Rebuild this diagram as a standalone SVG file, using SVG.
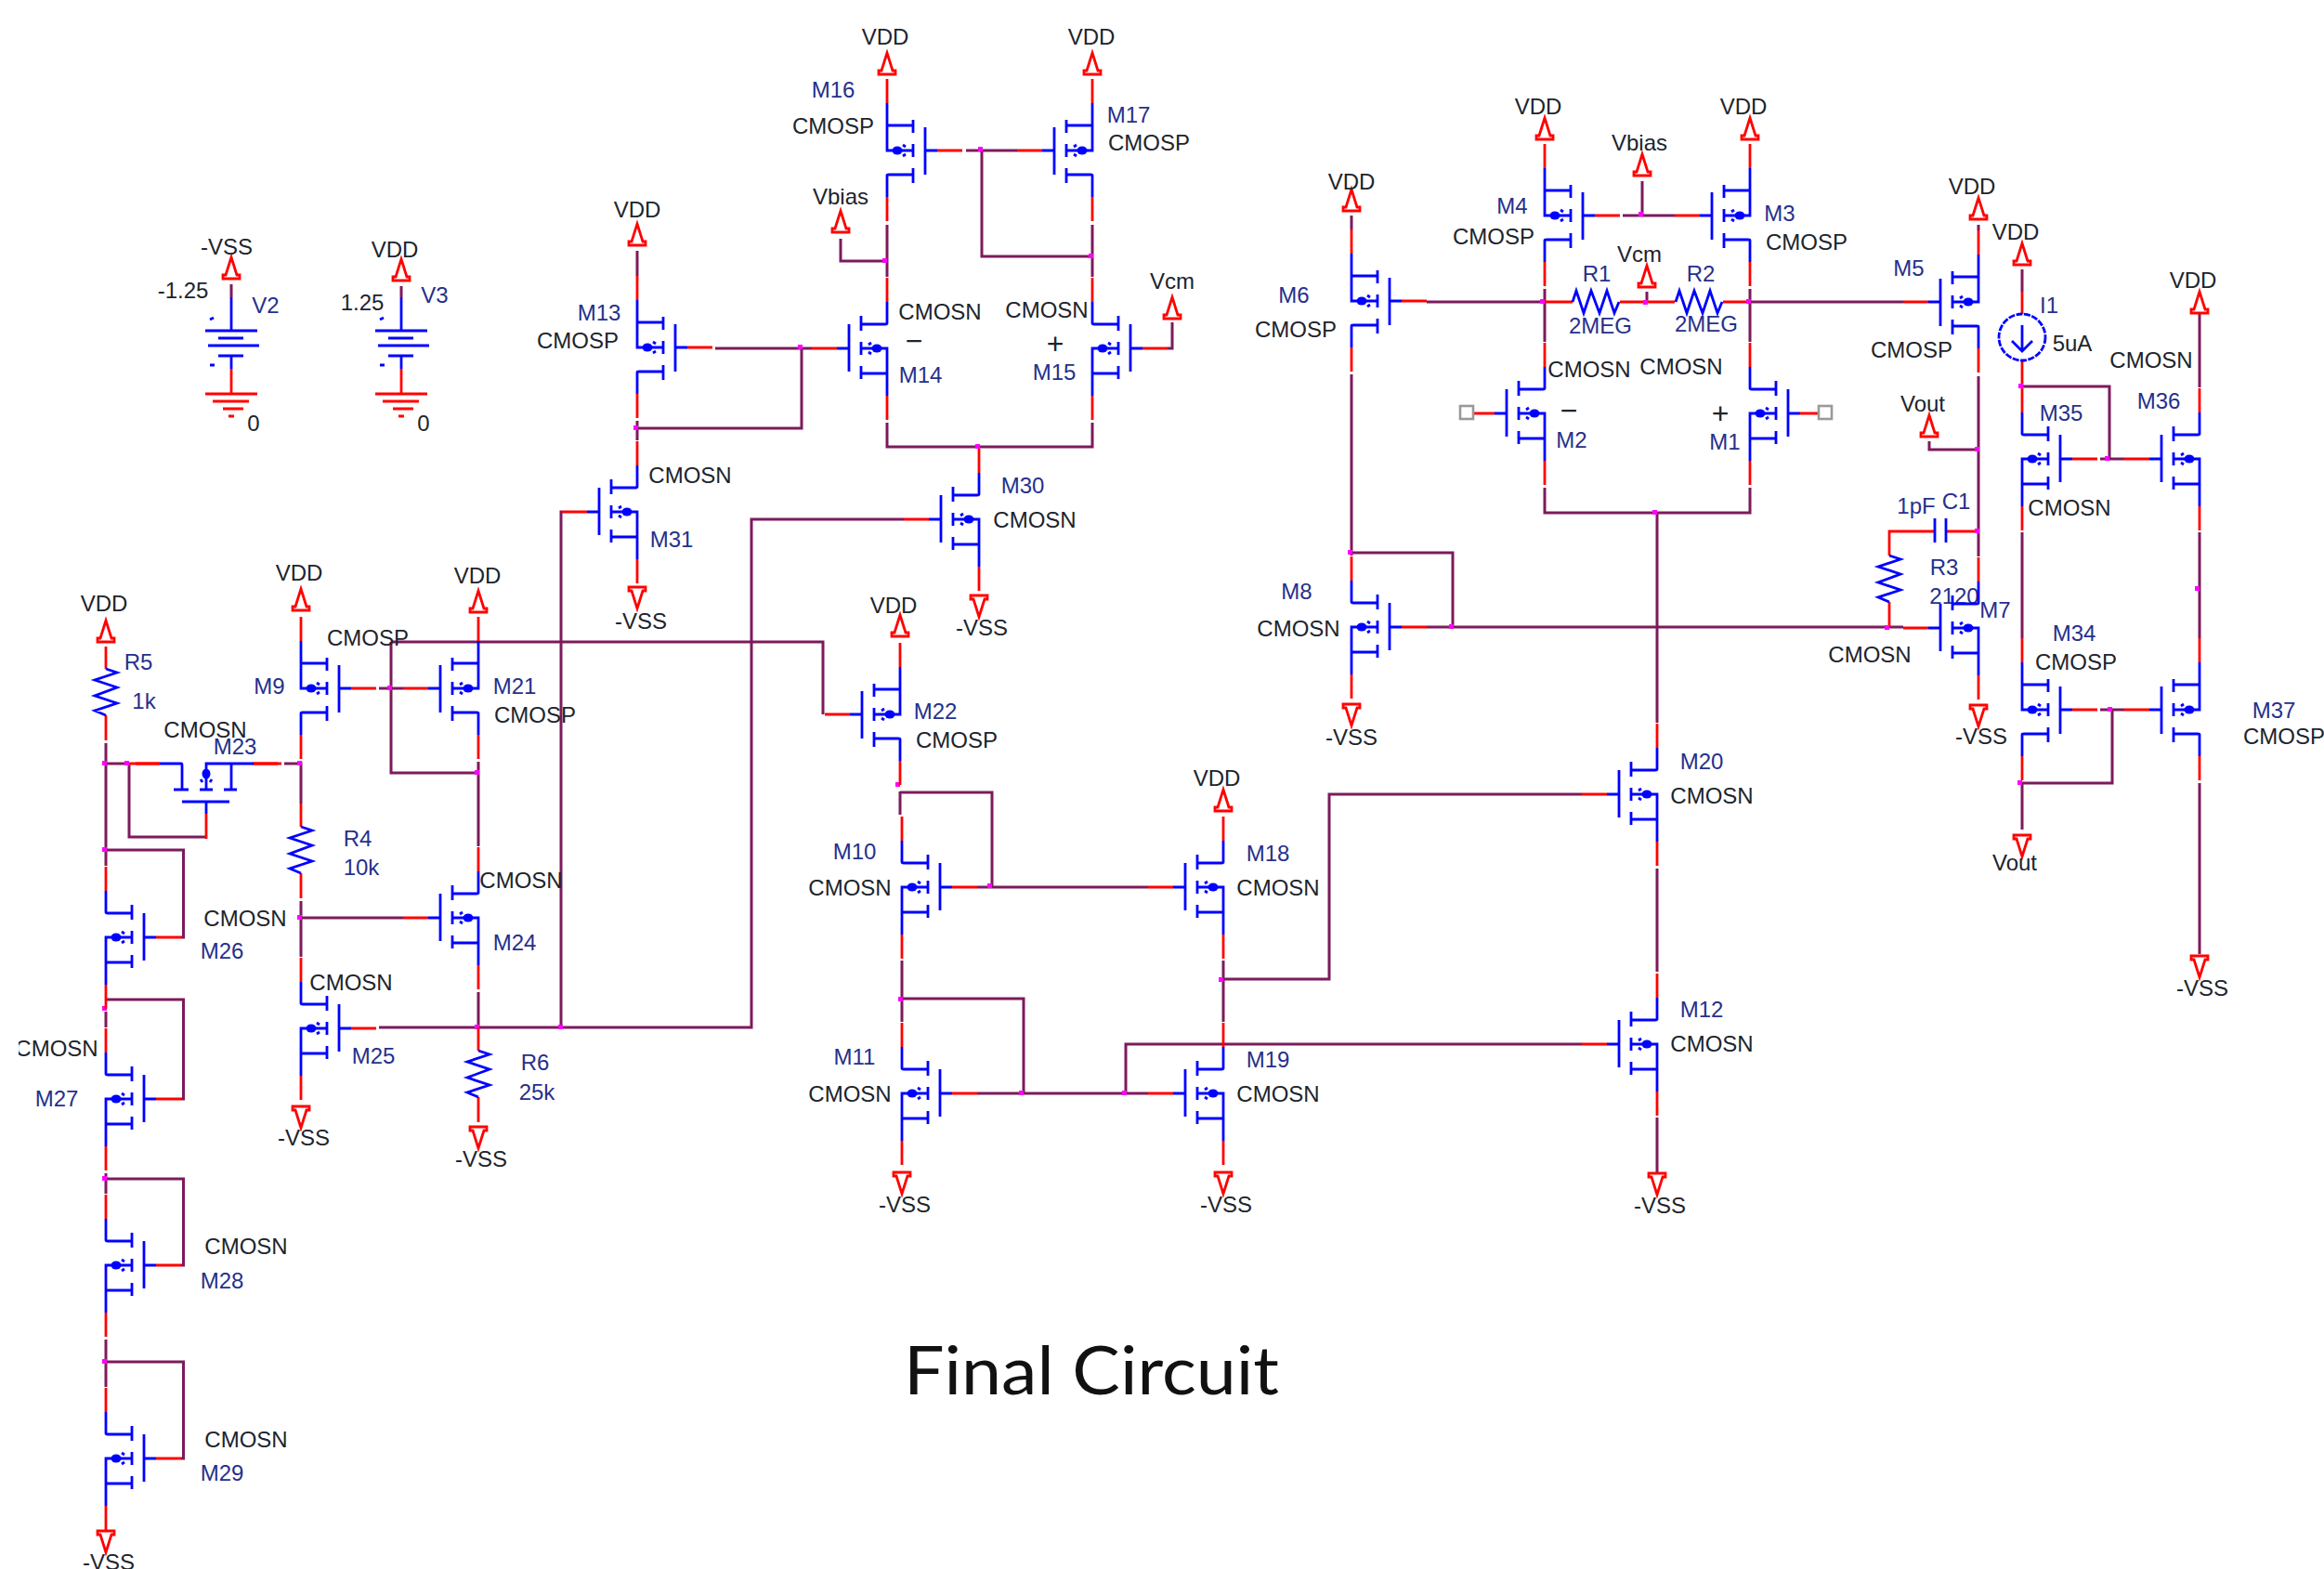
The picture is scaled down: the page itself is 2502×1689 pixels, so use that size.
<svg xmlns="http://www.w3.org/2000/svg" xmlns:xlink="http://www.w3.org/1999/xlink" width="2502" height="1689" viewBox="0 0 2502 1689">
<style>
text{font-family:"Liberation Sans",Arial,sans-serif;font-size:24px;text-anchor:middle;fill:#20242c}
text.b{fill:#26308c}
text.s{font-size:32px}
text.title{font-family:Lato,"Open Sans",sans-serif;font-size:72px;fill:#111}
.p,.r,.w,.m{fill:none;stroke-width:2.8}
.p{stroke:#0000ff}
.r,.m{stroke:#ff0000}
.w{stroke:#7d1a5c;stroke-width:3}
.j{fill:#ff00ff}
.d{fill:#0000ff}
.box{fill:#fff;stroke:#999;stroke-width:2.6}
</style>
<defs>
<clipPath id="cut"><rect x="20" y="1100" width="120" height="60"/></clipPath>
<g id="m">
<path class="p" d="M0,-51V0H28M0,-27H28M0,50V27Q0,26 2,26H28M28,-33V-19M28,-7V7M28,19V35M41,-25V26M41,0H54"/>
<path class="r" d="M54,0H81M0,-51V-77M0,50V76"/>
<ellipse class="d" cx="11" cy="0" rx="5.5" ry="4.5"/>
<path class="p" stroke-width="2" d="M17,-6l3,2M17,6l3,-2"/>
</g>
<path id="up" class="m" d="M0,-23L-6,-4H-9V0H9V-4H6Z"/>
<path id="res" class="p" d="M0,0L12,4L-12,12L12,20L-12,29L12,37L-12,45L0,50"/>
<g id="vsrc">
<path class="p" d="M0,320V356M-28,356H28M-14,364H13M-25,372H30M-14,383H13M0,383V397"/>
<path class="r" d="M0,397V424M-28,424H28M-20,432H19M-9,440H13M-3,448H3"/>
<path class="p" d="M-23,344l4,-2M-23,393h5"/>
</g>
</defs>
<rect width="2502" height="1689" fill="#fff"/>

<g id="connectors">
<path class="w" d="M249,306V320M432,308V320"/>
<path class="w" d="M1040,162H1095M1057,162V276H1176M955,242V298M1176,242V298M955,455V481H1176V455M905,257V281H955"/>
<path class="w" d="M1257,375H1262V347M770,375H874M863,375V461H686M686,270V297M686,453V474"/>
<path class="w" d="M605,551H604V1106M973,559H809V1106H408M515,1068V1106"/>
<path class="w" d="M421,691H886V769M421,691V832H515M408,741H434M515,820V911M324,820V865M324,970V1030M324,988H434"/>
<path class="w" d="M114,800V932M114,822H139M306,822H324M139,822V901H222M114,915H197.5V1009H195M114,1089V1106M114,1076H197.5V1183H195M114,1263V1285M114,1269H197.5V1362H195M114,1442V1493M114,1466H197.5V1570H195"/>
<path class="w" d="M969,852V877M969,853H1068V955M1052,955H1236M971,1034V1100M971,1075H1102V1177M1052,1177H1236M1212,1177V1124H1703M1317,1034V1100M1317,1054H1431V855H1703M1784,935V1046M1784,552V778M1784,1203V1263"/>
<path class="w" d="M1663,525V552H1884V525M1536,325H1663M1884,325H2049M1663,311V368M1884,311V368M1768,195V232M1747,232H1803M1773,314V325M1455,232V247M1455,403V598M1455,595H1564V675M1536,675H2049"/>
<path class="w" d="M2130,242V248M2130,405V599M2077,475V484H2130M2177,290V314M2177,416H2271V494M2261,494H2287M2368,337V417M2177,573V687M2368,573V687M2261,764H2287M2274,764V843H2177M2177,842V893M2368,843V1027"/>
<path class="r" d="M139,822H172M272,822H303M2177,314V338M2177,388V417M2083,572H2034V598M2034,648V675M2095,572H2127M1663,325H1693M1744,325H1803M1855,325H1884"/>
<g class="j">
<rect x="950" y="278" width="5" height="5"/><rect x="1053" y="158" width="5" height="5"/><rect x="1172" y="273" width="5" height="5"/><rect x="1050" y="478" width="5" height="5"/>
<rect x="859" y="371" width="5" height="5"/><rect x="682" y="458" width="5" height="5"/><rect x="601" y="1103" width="5" height="5"/><rect x="511" y="1103" width="5" height="5"/>
<rect x="417" y="738" width="5" height="5"/><rect x="511" y="829" width="5" height="5"/><rect x="320" y="819" width="5" height="5"/><rect x="320" y="985" width="5" height="5"/>
<rect x="110" y="819" width="5" height="5"/><rect x="134" y="819" width="5" height="5"/><rect x="110" y="912" width="5" height="5"/><rect x="110" y="1083" width="5" height="5"/><rect x="110" y="1266" width="5" height="5"/><rect x="110" y="1463" width="5" height="5"/>
<rect x="964" y="842" width="5" height="5"/><rect x="1063" y="951" width="5" height="5"/><rect x="967" y="1073" width="5" height="5"/><rect x="1097" y="1174" width="5" height="5"/><rect x="1208" y="1174" width="5" height="5"/><rect x="1312" y="1052" width="5" height="5"/>
<rect x="1779" y="549" width="5" height="5"/><rect x="1658" y="322" width="5" height="5"/><rect x="1880" y="322" width="5" height="5"/><rect x="1764" y="228" width="5" height="5"/><rect x="1769" y="323" width="5" height="5"/><rect x="1451" y="592" width="5" height="5"/><rect x="1560" y="672" width="5" height="5"/><rect x="2029" y="673" width="5" height="5"/>
<rect x="2126" y="481" width="5" height="5"/><rect x="2126" y="569" width="5" height="5"/><rect x="2173" y="413" width="5" height="5"/><rect x="2266" y="491" width="5" height="5"/><rect x="2269" y="761" width="5" height="5"/><rect x="2172" y="840" width="5" height="5"/><rect x="2363" y="631" width="5" height="5"/>
</g>
</g>

<g id="V2"><use href="#vsrc" transform="translate(249,0)"/><use href="#up" transform="translate(249,300)"/><text x="244" y="274">-VSS</text><text x="197" y="321">-1.25</text><text class="b" x="286" y="337">V2</text><text x="273" y="464">0</text></g>
<g id="V3"><use href="#vsrc" transform="translate(432,0)"/><use href="#up" transform="translate(432,302)"/><text x="425" y="277">VDD</text><text x="390" y="334">1.25</text><text class="b" x="468" y="326">V3</text><text x="456" y="464">0</text></g>

<g id="M16"><use href="#m" transform="translate(955,162)"/><use href="#up" transform="translate(955,80)"/><text x="953" y="48">VDD</text><text class="b" x="897" y="105">M16</text><text x="897" y="144">CMOSP</text></g>
<g id="M17"><use href="#m" transform="translate(1176,162) scale(-1,1)"/><use href="#up" transform="translate(1176,80)"/><text x="1175" y="48">VDD</text><text class="b" x="1215" y="132">M17</text><text x="1237" y="162">CMOSP</text></g>
<g id="Vbias1"><use href="#up" transform="translate(905,250)"/><text x="905" y="220">Vbias</text></g>
<g id="M14"><use href="#m" transform="translate(955,375) scale(-1,-1)"/><text x="1012" y="344">CMOSN</text><text class="s" x="984" y="378">−</text><text class="b" x="991" y="412">M14</text></g>
<g id="M15"><use href="#m" transform="translate(1176,375) scale(1,-1)"/><text x="1127" y="342">CMOSN</text><text class="s" x="1136" y="381">+</text><text class="b" x="1135" y="409">M15</text></g>
<g id="Vcm1"><use href="#up" transform="translate(1262,343)"/><text x="1262" y="311">Vcm</text></g>
<g id="M13"><use href="#m" transform="translate(686,374)"/><use href="#up" transform="translate(686,264)"/><text x="686" y="234">VDD</text><text class="b" x="645" y="345">M13</text><text x="622" y="375">CMOSP</text></g>
<g id="M31"><use href="#m" transform="translate(686,551) scale(-1,-1)"/><use href="#up" transform="translate(686,632) scale(1,-1)"/><text x="690" y="677">-VSS</text><text x="743" y="520">CMOSN</text><text class="b" x="723" y="589">M31</text></g>
<g id="M30"><use href="#m" transform="translate(1054,559) scale(-1,-1)"/><use href="#up" transform="translate(1054,641) scale(1,-1)"/><text x="1057" y="684">-VSS</text><text class="b" x="1101" y="531">M30</text><text x="1114" y="568">CMOSN</text></g>

<g id="R5"><use href="#up" transform="translate(114,691)"/><path class="r" d="M114,696V720M114,770V797"/><use href="#res" transform="translate(114,720)"/><text x="112" y="658">VDD</text><text class="b" x="149" y="721">R5</text><text class="b" x="155" y="763">1k</text></g>
<g id="M23"><use href="#m" transform="translate(222,822) rotate(90)"/><text x="221" y="794">CMOSN</text><text class="b" x="253" y="812">M23</text></g>
<g id="M9"><use href="#m" transform="translate(324,741)"/><use href="#up" transform="translate(324,657)"/><text x="322" y="625">VDD</text><text x="396" y="695">CMOSP</text><text class="b" x="290" y="747">M9</text></g>
<g id="M21"><use href="#m" transform="translate(515,741) scale(-1,1)"/><use href="#up" transform="translate(515,659)"/><text x="514" y="628">VDD</text><text class="b" x="554" y="747">M21</text><text x="576" y="778">CMOSP</text></g>
<g id="R4"><path class="r" d="M324,865V890M324,940V967"/><use href="#res" transform="translate(324,890)"/><text class="b" x="385" y="911">R4</text><text class="b" x="389" y="942">10k</text></g>
<g id="M24"><use href="#m" transform="translate(515,988) scale(-1,-1)"/><text x="264" y="997">CMOSN</text><text x="561" y="956">CMOSN</text><text class="b" x="554" y="1023">M24</text></g>
<g id="M25"><use href="#m" transform="translate(324,1107) scale(1,-1)"/><use href="#up" transform="translate(324,1191) scale(1,-1)"/><text x="378" y="1066">CMOSN</text><text class="b" x="402" y="1145">M25</text><text x="327" y="1233">-VSS</text></g>
<g id="R6"><path class="r" d="M515,1106V1131M515,1181V1208"/><use href="#res" transform="translate(515,1131)"/><use href="#up" transform="translate(515,1213) scale(1,-1)"/><text class="b" x="576" y="1152">R6</text><text class="b" x="578" y="1184">25k</text><text x="518" y="1256">-VSS</text></g>
<g id="M26"><use href="#m" transform="translate(114,1009) scale(1,-1)"/><text class="b" x="239" y="1032">M26</text></g>
<g id="M27"><use href="#m" transform="translate(114,1183) scale(1,-1)"/><text x="61" y="1137" clip-path="url(#cut)">CMOSN</text><text class="b" x="61" y="1191">M27</text></g>
<g id="M28"><use href="#m" transform="translate(114,1362) scale(1,-1)"/><text x="265" y="1350">CMOSN</text><text class="b" x="239" y="1387">M28</text></g>
<g id="M29"><use href="#m" transform="translate(114,1570) scale(1,-1)"/><use href="#up" transform="translate(114,1648) scale(1,-1)"/><text x="265" y="1558">CMOSN</text><text class="b" x="239" y="1594">M29</text><text x="117" y="1690">-VSS</text></g>

<g id="M22"><use href="#m" transform="translate(969,769) scale(-1,1)"/><use href="#up" transform="translate(969,685)"/><text x="962" y="660">VDD</text><text class="b" x="1007" y="774">M22</text><text x="1030" y="805">CMOSP</text></g>
<g id="M10"><use href="#m" transform="translate(971,955) scale(1,-1)"/><text class="b" x="920" y="925">M10</text><text x="915" y="964">CMOSN</text></g>
<g id="M11"><use href="#m" transform="translate(971,1177) scale(1,-1)"/><use href="#up" transform="translate(971,1262) scale(1,-1)"/><text class="b" x="920" y="1146">M11</text><text x="915" y="1186">CMOSN</text><text x="974" y="1305">-VSS</text></g>
<g id="M18"><use href="#m" transform="translate(1317,955) scale(-1,-1)"/><use href="#up" transform="translate(1317,873)"/><text x="1310" y="846">VDD</text><text class="b" x="1365" y="927">M18</text><text x="1376" y="964">CMOSN</text></g>
<g id="M19"><use href="#m" transform="translate(1317,1177) scale(-1,-1)"/><use href="#up" transform="translate(1317,1262) scale(1,-1)"/><text class="b" x="1365" y="1149">M19</text><text x="1376" y="1186">CMOSN</text><text x="1320" y="1305">-VSS</text></g>
<g id="M20"><use href="#m" transform="translate(1784,855) scale(-1,-1)"/><text class="b" x="1832" y="828">M20</text><text x="1843" y="865">CMOSN</text></g>
<g id="M12"><use href="#m" transform="translate(1784,1124) scale(-1,-1)"/><use href="#up" transform="translate(1784,1263) scale(1,-1)"/><text class="b" x="1832" y="1095">M12</text><text x="1843" y="1132">CMOSN</text><text x="1787" y="1306">-VSS</text></g>

<g id="M6"><use href="#m" transform="translate(1455,324)"/><use href="#up" transform="translate(1455,227)"/><text x="1455" y="204">VDD</text><text class="b" x="1393" y="326">M6</text><text x="1395" y="363">CMOSP</text></g>
<g id="M8"><use href="#m" transform="translate(1455,675) scale(1,-1)"/><use href="#up" transform="translate(1455,758) scale(1,-1)"/><text class="b" x="1396" y="645">M8</text><text x="1398" y="685">CMOSN</text><text x="1455" y="802">-VSS</text></g>
<g id="M4"><use href="#m" transform="translate(1663,232)"/><use href="#up" transform="translate(1663,150)"/><text x="1656" y="123">VDD</text><text class="b" x="1628" y="230">M4</text><text x="1608" y="263">CMOSP</text></g>
<g id="M3"><use href="#m" transform="translate(1884,232) scale(-1,1)"/><use href="#up" transform="translate(1884,150)"/><text x="1877" y="123">VDD</text><text class="b" x="1916" y="238">M3</text><text x="1945" y="269">CMOSP</text></g>
<g id="Vbias2"><use href="#up" transform="translate(1768,189)"/><text x="1765" y="162">Vbias</text></g>
<g id="Vcm2"><use href="#up" transform="translate(1773,309)"/><text x="1765" y="282">Vcm</text></g>
<g id="R1"><use href="#res" transform="translate(1693,325) rotate(-90)"/><text class="b" x="1719" y="303">R1</text><text class="b" x="1723" y="359">2MEG</text></g>
<g id="R2"><use href="#res" transform="translate(1804,325) rotate(-90)"/><text class="b" x="1831" y="303">R2</text><text class="b" x="1837" y="357">2MEG</text></g>
<g id="M2"><use href="#m" transform="translate(1663,445) scale(-1,-1)"/><rect class="box" x="1572" y="437" width="14" height="14"/><text x="1711" y="406">CMOSN</text><text class="s" x="1689" y="453">−</text><text class="b" x="1692" y="482">M2</text></g>
<g id="M1"><use href="#m" transform="translate(1884,445) scale(1,-1)"/><rect class="box" x="1958" y="437" width="14" height="14"/><text x="1810" y="403">CMOSN</text><text class="s" x="1852" y="456">+</text><text class="b" x="1857" y="484">M1</text></g>

<g id="M5"><use href="#m" transform="translate(2130,325) scale(-1,1)"/><use href="#up" transform="translate(2130,236)"/><text x="2123" y="209">VDD</text><text class="b" x="2055" y="297">M5</text><text x="2058" y="385">CMOSP</text></g>
<g id="Vout1"><use href="#up" transform="translate(2077,470)"/><text x="2070" y="443">Vout</text></g>
<g id="C1"><path class="p" d="M2083,558V584M2095,558V584"/><text class="b" x="2063" y="553">1pF</text><text class="b" x="2106" y="548">C1</text></g>
<g id="R3"><use href="#res" transform="translate(2034,598)"/><text class="b" x="2093" y="619">R3</text><text class="b" x="2104" y="650">2120</text></g>
<g id="M7"><use href="#m" transform="translate(2130,676) scale(-1,-1)"/><use href="#up" transform="translate(2130,759) scale(1,-1)"/><text class="b" x="2148" y="665">M7</text><text x="2013" y="713">CMOSN</text><text x="2133" y="801">-VSS</text></g>
<g id="I1"><use href="#up" transform="translate(2177,285)"/><circle class="p" cx="2177" cy="363" r="25" stroke-dasharray="7 1.5"/><path class="p" d="M2177,350V378M2166,367L2177,378L2188,367"/><text x="2170" y="258">VDD</text><text class="b" x="2206" y="337">I1</text><text x="2231" y="378">5uA</text></g>
<g id="M35"><use href="#m" transform="translate(2177,494) scale(1,-1)"/><text class="b" x="2219" y="453">M35</text><text x="2228" y="555">CMOSN</text></g>
<g id="M36"><use href="#m" transform="translate(2368,494) scale(-1,-1)"/><use href="#up" transform="translate(2368,337)"/><text x="2361" y="310">VDD</text><text x="2316" y="396">CMOSN</text><text class="b" x="2324" y="440">M36</text></g>
<g id="M34"><use href="#m" transform="translate(2177,764)"/><text class="b" x="2233" y="690">M34</text><text x="2235" y="721">CMOSP</text></g>
<g id="M37"><use href="#m" transform="translate(2368,764) scale(-1,1)"/><text class="b" x="2448" y="773">M37</text><text x="2459" y="801">CMOSP</text></g>
<g id="Vout2"><use href="#up" transform="translate(2177,899) scale(1,-1)"/><text x="2169" y="937">Vout</text></g>
<g id="VSS37"><use href="#up" transform="translate(2368,1029) scale(1,-1)"/><text x="2371" y="1072">-VSS</text></g>
<text class="title" x="1175" y="1501" textLength="404" lengthAdjust="spacingAndGlyphs">Final Circuit</text>
</svg>
